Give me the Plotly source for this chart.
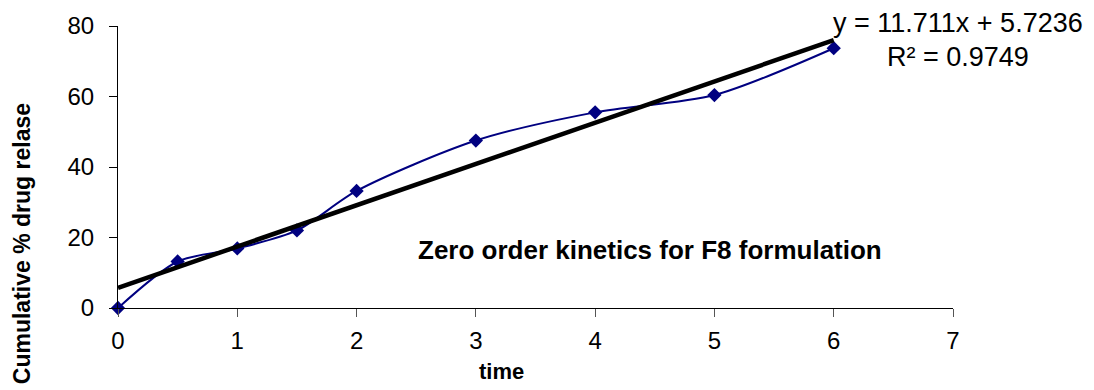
import plotly.graph_objects as go

# Release data for formulation F8
time_h = [0, 0.5, 1, 1.5, 2, 3, 4, 5, 6]
release_pct = [0, 13.2, 16.9, 22.0, 33.2, 47.5, 55.5, 60.4, 73.7]

# Linear trend line parameters
slope = 11.711
intercept = 5.7236
r_squared = 0.9749
trend_x = [0, 6]
trend_y = [slope * t + intercept for t in trend_x]

x_ticks = [0, 1, 2, 3, 4, 5, 6, 7]
y_ticks = [0, 20, 40, 60, 80]

FONT = "Liberation Sans, Arial, sans-serif"

fig = go.Figure()

fig.add_trace(go.Scatter(
    x=time_h, y=release_pct,
    mode="lines+markers",
    line=dict(color="#000080", width=2, shape="spline", smoothing=0.8),
    marker=dict(symbol="diamond", size=11, color="#000080"),
    cliponaxis=False,
    showlegend=False,
))

fig.add_trace(go.Scatter(
    x=trend_x, y=trend_y,
    mode="lines",
    line=dict(color="black", width=4.5),
    cliponaxis=False,
    showlegend=False,
))

annotations = [
    dict(x=1.006, y=1.01, xref="paper", yref="paper",
         text=f"y = {slope}x + {intercept}", showarrow=False,
         font=dict(family=FONT, size=27, color="black"),
         xanchor="center", yanchor="middle"),
    dict(x=1.006, y=0.889, xref="paper", yref="paper",
         text=f"R² = {r_squared}", showarrow=False,
         font=dict(family=FONT, size=27, color="black"),
         xanchor="center", yanchor="middle"),
    dict(x=4.458, y=16.5, xref="x", yref="y",
         text="<b>Zero order kinetics for F8 formulation</b>", showarrow=False,
         font=dict(family=FONT, size=26, color="black"),
         xanchor="center", yanchor="middle"),
    dict(x=0.4587, y=-0.225, xref="paper", yref="paper",
         text="<b>time</b>", showarrow=False,
         font=dict(family=FONT, size=22, color="black"),
         xanchor="center", yanchor="middle"),
    dict(x=-0.1156, y=0.228, xref="paper", yref="paper",
         text="<b>Cumulative % drug relase</b>", showarrow=False,
         textangle=-90,
         font=dict(family=FONT, size=23, color="black"),
         xanchor="center", yanchor="middle"),
]

fig.update_layout(
    width=1094, height=390,
    margin=dict(l=118, r=141, t=21, b=82),
    paper_bgcolor="white", plot_bgcolor="white",
    font=dict(family=FONT, color="black"),
    annotations=annotations,
    showlegend=False,
)

fig.update_xaxes(
    range=[0, 7], tickvals=x_ticks, ticktext=[str(v) for v in x_ticks],
    showgrid=False, zeroline=False,
    showline=True, linecolor="black", linewidth=1,
    ticks="outside", ticklen=8, tickcolor="#555555", tickwidth=1,
    ticklabelstandoff=3,
    tickfont=dict(family=FONT, size=24, color="black"),
)
fig.update_yaxes(
    range=[0, 80], tickvals=y_ticks, ticktext=[str(v) for v in y_ticks],
    showgrid=False, zeroline=False,
    showline=True, linecolor="black", linewidth=1,
    ticks="outside", ticklen=8, tickcolor="black", tickwidth=1,
    ticklabelstandoff=10,
    tickfont=dict(family=FONT, size=24, color="black"),
)

fig.write_html("out.html")
